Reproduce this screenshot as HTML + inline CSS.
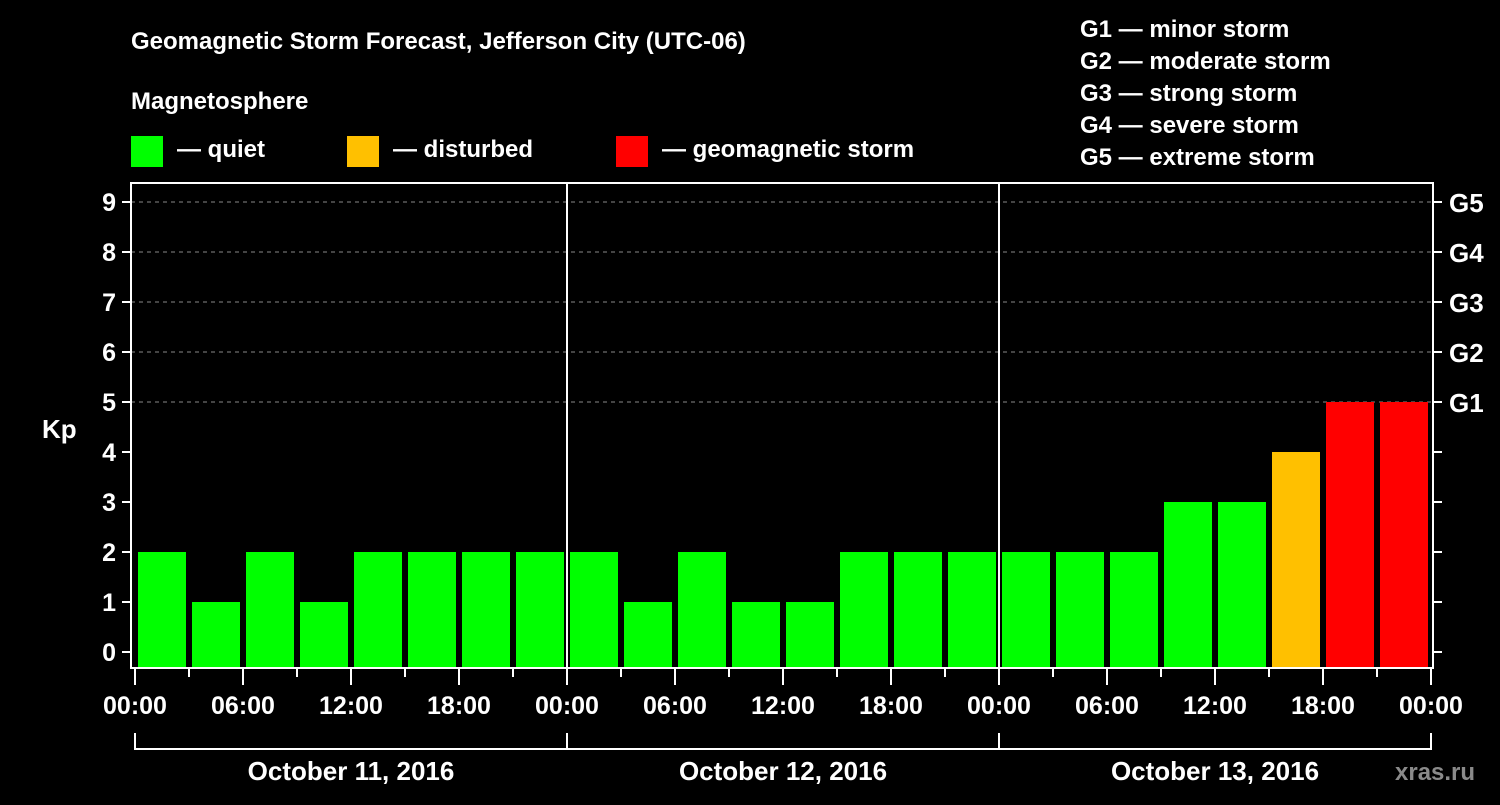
<!DOCTYPE html>
<html><head><meta charset="utf-8"><style>
body{margin:0;background:#000;}
svg text{font-family:"Liberation Sans",Arial,sans-serif;font-weight:bold;fill:#fff;}
</style></head><body>
<svg width="1500" height="800" xmlns="http://www.w3.org/2000/svg">
<rect width="1500" height="800" fill="#000"/>
<text x="131" y="49" font-size="24">Geomagnetic Storm Forecast, Jefferson City (UTC-06)</text>
<text x="131" y="109" font-size="24">Magnetosphere</text>
<g><rect x="131" y="136" width="32" height="31" fill="#00ff00"/><text x="177" y="157" font-size="24">— quiet</text></g>
<g><rect x="347" y="136" width="32" height="31" fill="#ffc000"/><text x="393" y="157" font-size="24">— disturbed</text></g>
<g><rect x="616" y="136" width="32" height="31" fill="#ff0000"/><text x="662" y="157" font-size="24">— geomagnetic storm</text></g>
<g font-size="24">
<text x="1080" y="37">G1 — minor storm</text>
<text x="1080" y="69">G2 — moderate storm</text>
<text x="1080" y="101">G3 — strong storm</text>
<text x="1080" y="133">G4 — severe storm</text>
<text x="1080" y="165">G5 — extreme storm</text>
</g>
<text x="42" y="438" font-size="26">Kp</text>
<text x="1395" y="780" font-size="24" fill="#888" style="fill:#8a8a8a">xras.ru</text>
<g id="grid"></g>
<g id="bars"></g>
<g id="axes"></g>
<script>
const kpValues=[2,1,2,1,2,2,2,2, 2,1,2,1,1,2,2,2, 2,2,2,3,3,4,5,5];
const dayLabels=["October 11, 2016","October 12, 2016","October 13, 2016"];
const yTicks=[0,1,2,3,4,5,6,7,8,9];
const gLabels=["G1","G2","G3","G4","G5"];
const hourLabels=["00:00","06:00","12:00","18:00"];
const NS="http://www.w3.org/2000/svg";
const X0=135,SLOT=54,LEFT=131,RIGHT=1433,TOP=183,BOT=667;
const y=v=>652-50*v;
const x=i=>X0+i*SLOT;
function mk(t,a,p){const e=document.createElementNS(NS,t);for(const k in a)e.setAttribute(k,a[k]);p.appendChild(e);return e;}
const grid=document.getElementById('grid'),bars=document.getElementById('bars'),axes=document.getElementById('axes');
yTicks.forEach(v=>{
 if(v>=5){const l=mk('line',{x1:LEFT,x2:RIGHT,y1:y(v),y2:y(v),stroke:'#888','stroke-dasharray':'4,4','stroke-width':1},grid);
 
 }
 const t=mk('line',{x1:LEFT-9,x2:LEFT,y1:y(v),y2:y(v),stroke:'#fff','stroke-width':2},axes);
 
 
 const t2=mk('line',{x1:RIGHT,x2:RIGHT+9,y1:y(v),y2:y(v),stroke:'#fff','stroke-width':2},axes);
 
 
 const tx=mk('text',{x:LEFT-15,y:y(v)+9,'font-size':25,'text-anchor':'end'},axes);tx.textContent=v;
 
 
});
gLabels.forEach((g,i)=>{const tx=mk('text',{x:1449,y:y(5+i)+10,'font-size':26},axes);tx.textContent=g;
 
 });
kpValues.forEach((v,i)=>{
 const c=v>=5?'#ff0000':(v>=4?'#ffc000':'#00ff00');
 const r=mk('rect',{x:x(i)+3,y:y(v),width:48,height:BOT-y(v),fill:c},bars);
 
 
});
const fr=mk('path',{d:`M${LEFT} ${TOP}V${BOT+1}H${RIGHT}V${TOP}Z`,fill:'none',stroke:'#fff','stroke-width':2},axes);


for(let d=1;d<3;d++){const l=mk('line',{x1:x(d*8),x2:x(d*8),y1:TOP,y2:BOT,stroke:'#fff','stroke-width':2},axes);
 
 }
for(let i=0;i<=24;i++){
 const major=i%2==0;
 const l=mk('line',{x1:x(i),x2:x(i),y1:BOT,y2:major?685:677,stroke:'#fff','stroke-width':2},axes);
 
 
 if(major&&i%2==0&&(i%2==0)&&((i/2)%1==0)&&(i%2==0)&&(i% (2)==0)&&(i%2==0)&&(i%2==0)&&((i)%2==0)&&((i)%(2)==0)&&((i)%2==0)&&(i%2===0)&&(i%2==0)&&((i)%2==0)&&(true)&&(i%2==0)&&(i%2==0)&&(i%2==0)&&(i%2==0)&&((i)%2==0)&&(i%2==0)&&(i%2==0)&&(i%2==0)&&(i%2==0)&&(i%2==0)&&(i%2==0)&&(i%2==0)&&(i%2==0)&&(i%2==0)&&(i%2==0)&&(i%2==0)&&(i%2==0)&&(i%2==0)&&(i%2==0)&&(i%2==0)&&(i%2==0)&&(i%2==0)&&(i%2==0)&&(i%2==0)&&(i%2==0)&&(i%2==0)){}
}
for(let i=0;i<=12;i++){
 const tx=mk('text',{x:x(i*2),y:714,'font-size':25,'text-anchor':'middle'},axes);
 tx.textContent=hourLabels[i%4];
 
 
}
const br=mk('path',{d:`M${x(0)} 733V749H${x(24)}V733M${x(8)} 733V749M${x(16)} 733V749`,fill:'none',stroke:'#fff','stroke-width':2},axes);


dayLabels.forEach((d,i)=>{const tx=mk('text',{x:x(i*8+4),y:780,'font-size':26,'text-anchor':'middle'},axes);tx.textContent=d;
 
 });
</script>
</svg>
</body></html>
